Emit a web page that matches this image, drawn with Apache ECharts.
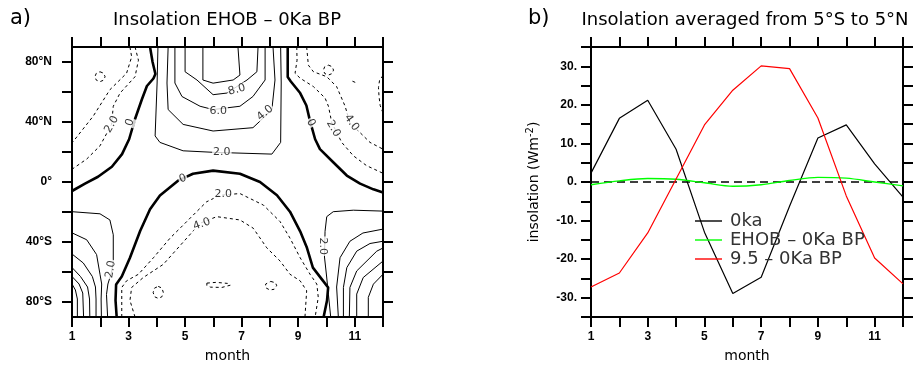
<!DOCTYPE html>
<html>
<head>
<meta charset="utf-8">
<script src="https://cdn.jsdelivr.net/npm/echarts@6/dist/echarts.min.js"></script>
<style>
  html, body { margin: 0; padding: 0; background: #fff; }
  #chart { width: 917px; height: 368px; }
</style>
</head>
<body>
<div id="chart"></div>
<script>
// ---- panel b: insolation averaged 5S-5N ----
const months = [1, 2, 3, 4, 5, 6, 7, 8, 9, 10, 11, 12];
const ins0ka = [2.3, 16.5, 21.2, 8.5, -13.0, -28.9, -24.7, -6.3, 11.4, 14.8, 4.7, -3.9];
const insEHOB = [-0.7, 0.3, 0.9, 0.7, -0.2, -1.1, -0.7, 0.4, 1.2, 1.0, 0.0, -1.0];
const ins95 = [-27.2, -23.6, -13.2, 0.8, 14.8, 23.8, 30.1, 29.4, 16.6, -3.6, -19.7, -26.4];

const monthLabels = [1, 3, 5, 7, 9, 11];
const latTicks = [-80, -60, -40, -20, 0, 20, 40, 60, 80];
const latLabels = [-80, -40, 0, 40, 80];
const insLabels = [-30, -20, -10, 0, 10, 20, 30];

// ---- panel a: contour lines of EHOB - 0Ka, as [month, latitude] ----
// 0 contour (thick)
const zeroNW = [[3.76, 90], [3.85, 80], [3.95, 72], [3.88, 69], [3.65, 64], [3.47, 55], [3.23, 42], [3.02, 28.5], [2.77, 18.6], [2.41, 10.2], [1.92, 3.5], [1.46, -1.1], [1.0, -6.0]];
const zeroNE = [[8.63, 90], [8.63, 70], [8.74, 67], [9.07, 59.3], [9.29, 51], [9.42, 40.6], [9.60, 28.5], [9.77, 21.9], [10.24, 13.2], [10.72, 4.3], [11.19, -1.1], [11.66, -4.9], [12, -7.0]];
const zeroS = [[2.58, -90], [2.54, -79], [2.56, -68.3], [2.76, -63], [3.05, -50.5], [3.41, -32.7], [3.76, -18.2], [4.11, -9.0], [4.75, 0.9], [5.28, 5.5], [5.99, 7.6], [6.94, 5.5], [7.65, 0], [8.25, -8.8], [8.71, -19.8], [9.07, -32.9], [9.31, -43.9], [9.52, -57.1], [9.88, -65.9], [10.06, -70.3], [10.02, -79], [9.90, -90]];

// positive contours (solid), northern summer maximum
const pos2N = [[4.04, 90], [4.01, 66], [3.94, 30.7], [4.11, 26.4], [4.93, 20.8], [5.99, 19.8], [8.07, 18.6], [8.38, 26.4], [8.40, 66], [8.38, 90]];
const pos4N = [[4.40, 90], [4.36, 66], [4.40, 48.3], [4.93, 38.4], [5.99, 34.0], [7.40, 36.2], [7.65, 40.6], [8.07, 48.3], [8.18, 68], [8.11, 90]];
const pos6N = [[4.64, 90], [4.64, 66], [4.89, 57], [5.53, 50.5], [5.99, 48.3], [6.94, 50.5], [7.40, 57], [7.83, 68], [7.83, 90]];
const pos8N = [[5.0, 90], [5.0, 73.5], [5.42, 68], [5.99, 58.2], [6.48, 59.3], [7.19, 68], [7.54, 73.5], [7.58, 90]];
const pos10N = [[5.63, 90], [5.63, 68], [5.99, 65.9], [6.70, 68], [6.94, 71.3], [6.87, 90]];

// positive contours (solid), southern corners
const pos2SW = [[1, -19.8], [1.99, -21.2], [2.34, -25.3], [2.46, -35.2], [2.46, -52.7], [2.40, -60], [2.27, -68], [2.22, -75], [2.26, -90]];
const pos4SW = [[1, -33.9], [1.52, -38.5], [1.87, -48.4], [1.99, -61.5], [2.05, -68], [2.03, -78], [2.04, -90]];
const pos6SW = [[1, -48], [1.40, -54], [1.72, -63], [1.83, -70], [1.85, -78], [1.85, -90]];
const pos8SW = [[1, -57], [1.30, -63], [1.55, -70], [1.62, -78], [1.63, -90]];
const pos10SW = [[1, -63], [1.25, -68], [1.38, -74], [1.41, -90]];
const pos12SW = [[1, -68], [1.12, -72], [1.19, -78], [1.19, -90]];
const pos2SE = [[12, -19.4], [10.95, -18.8], [10.24, -19.8], [10.01, -23.1], [9.95, -32.9], [9.93, -50], [10.0, -62], [10.07, -75], [10.15, -90]];
const pos4SE = [[12, -31.4], [11.29, -34], [10.83, -39.5], [10.48, -50.5], [10.36, -70], [10.42, -90]];
const pos6SE = [[12, -39.5], [11.54, -41], [11.07, -46.1], [10.72, -57.1], [10.60, -70.3], [10.60, -90]];
const pos8SE = [[12, -44], [11.78, -46.1], [11.07, -59.3], [10.83, -70.3], [10.81, -90]];
const pos10SE = [[12, -52.7], [11.30, -63.7], [11.07, -74.7], [11.07, -90]];
const pos12SE = [[12, -61.5], [11.66, -68.1], [11.48, -76.9], [11.48, -90]];

// negative contours (dashed)
const neg2NW = [[3.23, 90], [3.35, 81.2], [3.23, 70.2], [2.70, 59.3], [2.46, 50.5], [2.40, 38.4], [1.99, 24.1], [1.52, 15.3], [1.0, 8.5]];
const neg4NW = [[3.05, 90], [3.11, 83.4], [2.93, 72.5], [2.34, 61.5], [1.75, 43.9], [1.0, 26.0]];
const neg2NE = [[8.95, 90], [8.96, 81.2], [8.89, 72.5], [9.07, 69.2], [9.54, 63.6], [9.95, 56.0], [10.07, 50.5], [10.19, 39.5], [10.54, 26.4], [10.95, 17.5], [11.42, 10.9], [12, 5.8]];
const neg4NE = [[9.30, 90], [9.36, 77.9], [9.54, 73.5], [10.01, 70.2], [10.36, 63.6], [10.66, 50.5], [10.83, 39.5], [11.19, 32.9], [11.54, 26.4], [12, 21.9]];
const neg6NE = [[12, 71], [11.88, 68], [11.84, 63], [11.86, 57], [11.9, 51], [12, 46]];
const neg6NEbit = [[10.92, 67.2], [11.02, 66.4]];
const neg2S = [[2.76, -90], [2.76, -70.3], [2.93, -65.9], [3.35, -61.5], [3.88, -50.5], [4.47, -37.4], [4.94, -28.6], [5.29, -22.0], [5.76, -13.2], [6.24, -8.8], [6.94, -7.7], [7.77, -15.4], [8.36, -26.4], [8.71, -37.4], [9.07, -50.5], [9.42, -61.5], [9.66, -68.1], [9.71, -76.9], [9.60, -90]];
const neg4S = [[3.23, -90], [3.05, -79], [3.11, -70.3], [3.52, -63.7], [4.23, -54.9], [5.06, -37.4], [5.53, -27.5], [6.12, -23.1], [6.94, -25.3], [7.41, -30.8], [7.89, -43.9], [8.36, -52.7], [8.71, -61.5], [9.07, -65.9], [9.30, -72.5], [9.24, -90]];
// small closed dashed contours
const loopNW = [[1.99, 73.5], [2.12, 72.5], [2.17, 70.2], [2.12, 67.9], [1.99, 66.9], [1.86, 67.9], [1.81, 70.2], [1.86, 72.5], [1.99, 73.5]];
const loopNE = [[10.07, 77.9], [10.2, 76.9], [10.25, 74.6], [10.2, 72.3], [10.07, 71.3], [9.94, 72.3], [9.89, 74.6], [9.94, 76.9], [10.07, 77.9]];
const loopS1 = [[4.05, -69.6], [4.18, -70.7], [4.23, -73.6], [4.18, -76.5], [4.05, -77.6], [3.92, -76.5], [3.87, -73.6], [3.92, -70.7], [4.05, -69.6]];
const loopS2 = [[5.77, -67.4], [6.1, -66.9], [6.5, -67.6], [6.6, -68.8], [6.3, -70.3], [5.9, -70.1], [5.77, -69], [5.77, -67.4]];
const loopS3 = [[8.03, -66.3], [8.2, -67.2], [8.24, -69.2], [8.15, -71.5], [8.0, -72], [7.85, -70.5], [7.85, -68], [8.03, -66.3]];

const thickLines = [zeroNW, zeroNE, zeroS];
const solidLines = [pos2N, pos4N, pos6N, pos8N, pos10N, pos2SW, pos4SW, pos6SW, pos8SW, pos10SW, pos12SW,
  pos2SE, pos4SE, pos6SE, pos8SE, pos10SE, pos12SE];
const dashedLines = [neg2NW, neg4NW, neg2NE, neg4NE, neg6NE, neg6NEbit, neg2S, neg4S, loopNW, loopNE, loopS1, loopS2, loopS3];

// contour labels: month, latitude, text, rotation
const contourLabels = [
  [2.40, 38.4, '2.0', 60], [3.05, 39.7, '0', 70], [6.83, 61.5, '8.0', 15], [6.17, 47.2, '6.0', 0],
  [7.83, 46.1, '4.0', 40], [6.30, 20.2, '2.0', 0], [4.92, 2.2, '0', 20], [9.45, 39.5, '0', -65],
  [10.24, 35.6, '2.0', -60], [10.89, 39.5, '4.0', -55], [6.35, -8.4, '2.0', 0], [5.59, -28.1, '4.0', 20],
  [2.37, -58.2, '2.0', 80], [9.89, -42.8, '2.0', -90]
];

const chart = echarts.init(document.getElementById('chart'), null, { renderer: 'canvas' });

const txtFont = 'DejaVu Sans';
const tickFont = { fontFamily: 'Liberation Sans', fontWeight: 'bold', fontSize: 12, color: '#000' };

function frameAxis(extra) {
  return Object.assign({
    type: 'value',
    splitLine: { show: false },
    axisLine: { show: true, onZero: false, lineStyle: { color: '#000', width: 2 } },
    axisTick: { show: true, length: 10, lineStyle: { color: '#000', width: 2 } },
  }, extra);
}

function monthAxis(grid, pos, labelled) {
  return frameAxis({
    gridIndex: grid, position: pos, min: 1, max: 12, interval: 1,
    name: labelled ? 'month' : '',
    nameLocation: 'middle', nameGap: 32,
    nameTextStyle: { fontFamily: txtFont, fontSize: 14, color: '#000' },
    axisLabel: labelled
      ? Object.assign({ show: true, margin: 14, customValues: monthLabels }, tickFont)
      : { show: false }
  });
}

const latFmt = v => v === 0 ? '0°' : Math.abs(v) + '°' + (v > 0 ? 'N' : 'S');

function latAxis(pos, labelled) {
  return frameAxis({
    gridIndex: 0, position: pos, min: -90, max: 90,
    axisTick: { show: true, length: 10, customValues: latTicks, lineStyle: { color: '#000', width: 2 } },
    axisLabel: labelled
      ? Object.assign({ show: true, margin: 20, customValues: latLabels, formatter: latFmt }, tickFont)
      : { show: false }
  });
}

function insAxis(pos, labelled) {
  return frameAxis({
    gridIndex: 1, position: pos, min: -35, max: 35, interval: 5,
    name: labelled ? '{a|insolation (Wm}{s|-2}{a|)}' : '',
    nameLocation: 'middle', nameRotate: 90, nameGap: 48,
    nameTextStyle: {
      rich: {
        a: { fontFamily: txtFont, fontSize: 14, color: '#000', lineHeight: 18 },
        s: { fontFamily: txtFont, fontSize: 10, color: '#000', verticalAlign: 'top', lineHeight: 18 }
      }
    },
    axisLabel: labelled
      ? Object.assign({ show: true, margin: 14, customValues: insLabels, formatter: v => v + '.' }, tickFont)
      : { show: false }
  });
}

const contourSeries = [];
thickLines.forEach(d => contourSeries.push({ type: 'line', xAxisIndex: 0, yAxisIndex: 0, data: d, showSymbol: false, silent: true, lineStyle: { color: '#000', width: 2.6 } }));
solidLines.forEach(d => contourSeries.push({ type: 'line', xAxisIndex: 0, yAxisIndex: 0, data: d, showSymbol: false, silent: true, lineStyle: { color: '#000', width: 1 } }));
dashedLines.forEach(d => contourSeries.push({ type: 'line', xAxisIndex: 0, yAxisIndex: 0, data: d, showSymbol: false, silent: true, lineStyle: { color: '#000', width: 1, type: [3, 3] } }));

contourSeries.push({
  type: 'scatter', xAxisIndex: 0, yAxisIndex: 0, z: 5, symbolSize: 1, silent: true,
  itemStyle: { color: 'rgba(0,0,0,0)' },
  data: contourLabels.map(c => ({ value: [c[0], c[1]], name: c[2], label: { rotate: c[3] } })),
  label: {
    show: true, position: 'inside', formatter: p => p.name,
    fontFamily: txtFont, fontSize: 11, color: '#000', backgroundColor: '#fff', padding: [0, 1]
  }
});

const pair = arr => months.map((m, i) => [m, arr[i]]);

chart.setOption({
  animation: false,
  backgroundColor: '#fff',
  grid: [
    { left: 72, top: 47, width: 311, height: 273 },
    { left: 591, top: 47, width: 312, height: 273 }
  ],
  xAxis: [monthAxis(0, 'bottom', true), monthAxis(0, 'top', false), monthAxis(1, 'bottom', true), monthAxis(1, 'top', false)],
  yAxis: [latAxis('left', true), latAxis('right', false), insAxis('left', true), insAxis('right', false)],
  legend: {
    left: 690, top: 207, orient: 'vertical', icon: 'rect', itemWidth: 27, itemHeight: 1.4, itemGap: 1,
    data: ['0ka', 'EHOB – 0Ka BP', '9.5 – 0Ka BP'],
    textStyle: { fontFamily: txtFont, fontSize: 18, color: '#333', lineHeight: 18, padding: [0, 0, 0, 3] }
  },
  graphic: [
    { type: 'text', left: 10, top: 8, style: { text: 'a)', font: '21px "DejaVu Sans"', fill: '#000' } },
    { type: 'text', x: 227, y: 20, style: { text: 'Insolation EHOB – 0Ka BP', font: '18px "DejaVu Sans"', fill: '#000', align: 'center', verticalAlign: 'middle' } },
    { type: 'text', left: 528, top: 8, style: { text: 'b)', font: '21px "DejaVu Sans"', fill: '#000' } },
    { type: 'text', x: 745, y: 20, style: { text: 'Insolation averaged from 5°S to 5°N', font: '18px "DejaVu Sans"', fill: '#000', align: 'center', verticalAlign: 'middle' } }
  ],
  series: contourSeries.concat([
    {
      type: 'line', xAxisIndex: 2, yAxisIndex: 2, data: [[1, 0], [12, 0]], showSymbol: false, silent: true,
      lineStyle: { color: '#000', width: 1.6, type: [8, 5] }
    },
    { name: '0ka', type: 'line', xAxisIndex: 2, yAxisIndex: 2, data: pair(ins0ka), symbol: 'none', lineStyle: { color: '#000', width: 1.2 }, itemStyle: { color: '#000' } },
    { name: 'EHOB – 0Ka BP', type: 'line', xAxisIndex: 2, yAxisIndex: 2, data: pair(insEHOB), symbol: 'none', smooth: 0.3, lineStyle: { color: '#00ff00', width: 1.4 }, itemStyle: { color: '#00ff00' } },
    { name: '9.5 – 0Ka BP', type: 'line', xAxisIndex: 2, yAxisIndex: 2, data: pair(ins95), symbol: 'none', lineStyle: { color: '#ff0000', width: 1.2 }, itemStyle: { color: '#ff0000' } }
  ])
});
</script>
</body>
</html>
